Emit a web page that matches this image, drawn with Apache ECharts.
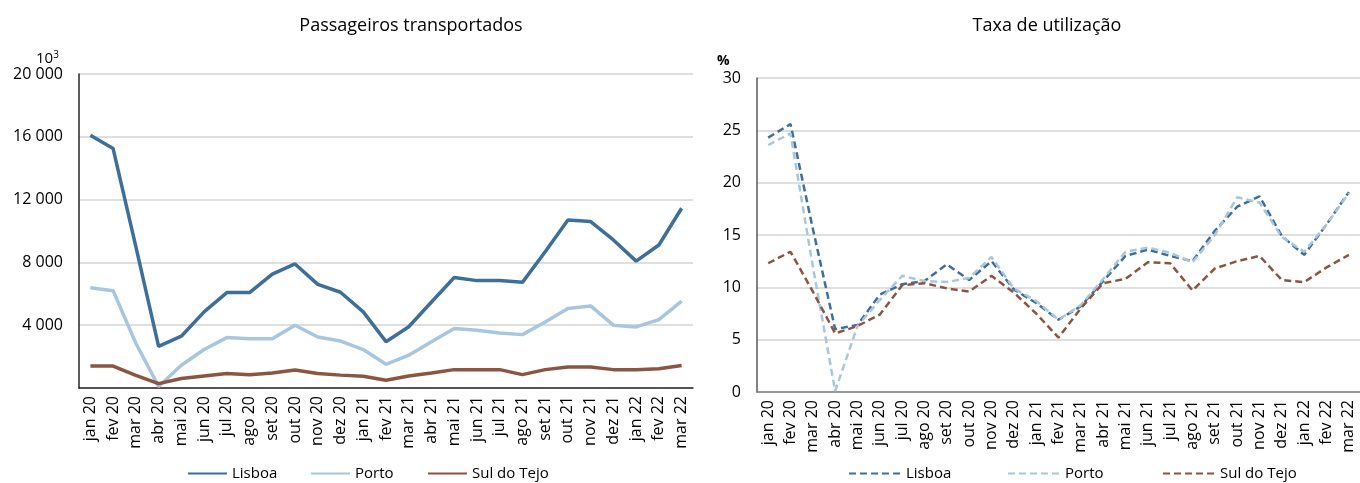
<!DOCTYPE html>
<html>
<head>
<meta charset="utf-8">
<script src="https://cdn.jsdelivr.net/npm/echarts@6/dist/echarts.min.js"></script>
<style>
  html, body { margin: 0; padding: 0; background: #fff; }
  #main { width: 1360px; height: 483px; }
</style>
</head>
<body>
<div id="main"></div>
<script>
var meses = ['jan 20', 'fev 20', 'mar 20', 'abr 20', 'mai 20', 'jun 20', 'jul 20', 'ago 20', 'set 20', 'out 20', 'nov 20', 'dez 20',
    'jan 21', 'fev 21', 'mar 21', 'abr 21', 'mai 21', 'jun 21', 'jul 21', 'ago 21', 'set 21', 'out 21', 'nov 21', 'dez 21',
    'jan 22', 'fev 22', 'mar 22'];

// passageiros transportados (milhares)
var passLisboa = [16100, 15250, 9000, 2650, 3300, 4850, 6080, 6080, 7250, 7900, 6600, 6100,
    4850, 2950, 3900, 5480, 7040, 6840, 6840, 6730, 8680, 10700, 10600, 9430, 8080, 9110, 11450];
var passPorto = [6380, 6190, 2850, 100, 1450, 2450, 3210, 3130, 3130, 4000, 3250, 2990,
    2450, 1510, 2090, 2940, 3790, 3680, 3510, 3400, 4210, 5060, 5230, 4000, 3890, 4360, 5530];
var passSul = [1400, 1400, 810, 280, 600, 770, 920, 850, 960, 1150, 920, 820,
    745, 490, 770, 960, 1170, 1170, 1170, 850, 1170, 1340, 1340, 1170, 1170, 1230, 1430];

// taxa de utilizacao (%)
var taxaLisboa = [24.3, 25.6, 15.6, 6.0, 6.4, 9.3, 10.3, 10.6, 12.2, 10.7, 12.5, 9.8,
    8.5, 6.9, 8.2, 10.6, 13.0, 13.6, 13.0, 12.5, 15.4, 17.7, 18.7, 14.9, 13.1, 16.0, 19.1];
var taxaPorto = [23.6, 24.7, 12.0, 0.1, 6.3, 8.8, 11.1, 10.6, 10.5, 10.9, 12.9, 9.9,
    8.7, 6.9, 8.3, 10.8, 13.4, 13.8, 13.3, 12.4, 15.0, 18.6, 18.1, 14.8, 13.4, 16.0, 19.0];
var taxaSul = [12.3, 13.4, 9.6, 5.6, 6.3, 7.4, 10.2, 10.4, 9.9, 9.6, 11.1, 9.5,
    7.5, 5.2, 8.0, 10.4, 10.8, 12.4, 12.3, 9.7, 11.8, 12.5, 13.0, 10.7, 10.5, 11.9, 13.1];

var corLisboa = '#3d6f99';
var corPorto = '#a8c7dd';
var corSul = '#8b5542';
var fonte = "'Open Sans', 'Liberation Sans', sans-serif";

function milhares(v) {
    if (v === 0) return '';
    return String(v).replace(/\B(?=(\d{3})+(?!\d))/g, ' ');
}

function eixoX(idx) {
    return {
        type: 'category', gridIndex: idx, data: meses, boundaryGap: true,
        axisLine: { lineStyle: { color: idx === 0 ? '#262626' : '#7f7f7f', width: 1.5 } },
        axisTick: { show: false },
        axisLabel: { rotate: 90, interval: 0, margin: 8, fontSize: 16, color: '#000', fontFamily: fonte }
    };
}

function legenda(nome, x, largura) {
    return {
        data: [nome], left: x, top: 466, padding: 0, itemWidth: largura, itemHeight: 14, itemGap: 0,
        itemStyle: { opacity: 0 },
        formatter: function (n) { return n.split(' (')[0]; },
        textStyle: { fontSize: 15, color: '#000', fontFamily: fonte },
        selectedMode: false
    };
}

var myChart = echarts.init(document.getElementById('main'));
var option = {
    backgroundColor: '#fff',
    animation: false,
    graphic: [
        { type: 'text', x: 411, y: 26, style: { text: 'Passageiros transportados', textAlign: 'center', textVerticalAlign: 'middle', fontSize: 18, fontFamily: fonte, fill: '#000' } },
        { type: 'text', x: 1047, y: 26, style: { text: 'Taxa de utilização', textAlign: 'center', textVerticalAlign: 'middle', fontSize: 18, fontFamily: fonte, fill: '#000' } },
        { type: 'text', x: 36, y: 50, style: { text: '{b|10}{s|3}', rich: { b: { fontSize: 15, fontFamily: fonte, fill: '#000', verticalAlign: 'bottom' }, s: { fontSize: 10, fontFamily: fonte, fill: '#000', verticalAlign: 'top', padding: [0, 0, 6, 0] } } } },
        { type: 'text', x: 717, y: 54, style: { text: '%', fontSize: 14, fontWeight: 'bold', fontFamily: fonte, fill: '#000' } }
    ],
    grid: [
        { left: 79, top: 74, width: 614, height: 314 },
        { left: 757, top: 78, width: 605, height: 314 }
    ],
    legend: [
        legenda('Lisboa', 187, 39),
        legenda('Porto', 310, 39),
        legenda('Sul do Tejo', 427, 39),
        legenda('Lisboa (taxa)', 848, 52),
        legenda('Porto (taxa)', 1007, 52),
        legenda('Sul do Tejo (taxa)', 1162, 52)
    ],
    xAxis: [eixoX(0), eixoX(1)],
    yAxis: [
        {
            type: 'value', gridIndex: 0, min: 0, max: 20000, interval: 4000,
            axisLine: { show: true, lineStyle: { color: '#262626', width: 1.5 } },
            axisTick: { show: false },
            splitLine: { lineStyle: { color: '#d4d4d4', width: 1.5 } },
            axisLabel: { margin: 16, fontSize: 16, color: '#000', fontFamily: fonte, formatter: milhares }
        },
        {
            type: 'value', gridIndex: 1, min: 0, max: 30, interval: 5,
            axisLine: { show: true, lineStyle: { color: '#595959', width: 1.5 } },
            axisTick: { show: false },
            splitLine: { lineStyle: { color: '#d4d4d4', width: 1.5 } },
            axisLabel: { margin: 16, fontSize: 16, color: '#000', fontFamily: fonte }
        }
    ],
    series: [
        { name: 'Lisboa', type: 'line', xAxisIndex: 0, yAxisIndex: 0, data: passLisboa, symbol: 'none', color: corLisboa, lineStyle: { width: 3.5, color: corLisboa } },
        { name: 'Porto', type: 'line', xAxisIndex: 0, yAxisIndex: 0, data: passPorto, symbol: 'none', color: corPorto, lineStyle: { width: 3.5, color: corPorto } },
        { name: 'Sul do Tejo', type: 'line', xAxisIndex: 0, yAxisIndex: 0, data: passSul, symbol: 'none', color: corSul, lineStyle: { width: 3.5, color: corSul } },
        { name: 'Lisboa (taxa)', type: 'line', xAxisIndex: 1, yAxisIndex: 1, data: taxaLisboa, symbol: 'none', color: corLisboa, lineStyle: { width: 2.5, color: corLisboa, type: [7, 4] } },
        { name: 'Porto (taxa)', type: 'line', xAxisIndex: 1, yAxisIndex: 1, data: taxaPorto, symbol: 'none', color: corPorto, lineStyle: { width: 2.5, color: corPorto, type: [7, 4] } },
        { name: 'Sul do Tejo (taxa)', type: 'line', xAxisIndex: 1, yAxisIndex: 1, data: taxaSul, symbol: 'none', color: corSul, lineStyle: { width: 2.5, color: corSul, type: [7, 4] } }
    ]
};
myChart.setOption(option);
</script>
</body>
</html>
